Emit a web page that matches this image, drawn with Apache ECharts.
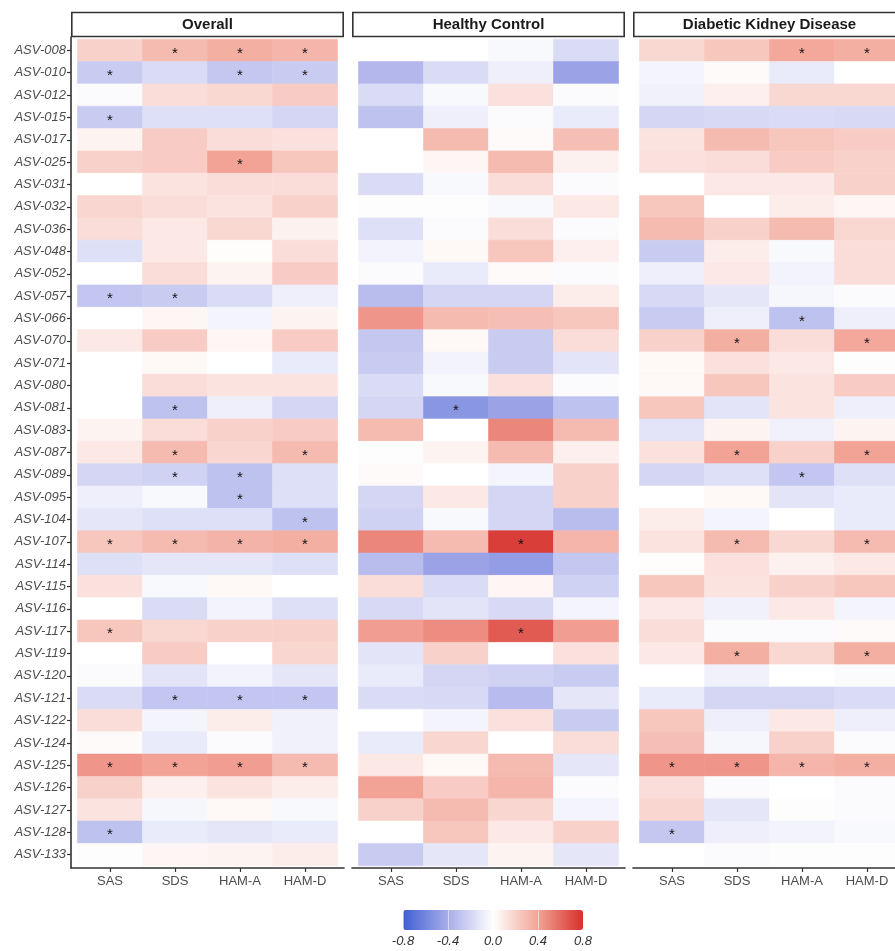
<!DOCTYPE html>
<html>
<head>
<meta charset="utf-8">
<script src="https://cdn.jsdelivr.net/npm/echarts@6/dist/echarts.min.js"></script>
<style>
  html, body { margin: 0; padding: 0; background: #fff; }
  #chart { width: 895px; height: 951px; }
</style>
</head>
<body>
<div id="chart"></div>
<script>
// 行：ASV，列：量表
const rows = ['ASV-008', 'ASV-010', 'ASV-012', 'ASV-015', 'ASV-017', 'ASV-025', 'ASV-031', 'ASV-032', 'ASV-036', 'ASV-048',
  'ASV-052', 'ASV-057', 'ASV-066', 'ASV-070', 'ASV-071', 'ASV-080', 'ASV-081', 'ASV-083', 'ASV-087', 'ASV-089',
  'ASV-095', 'ASV-104', 'ASV-107', 'ASV-114', 'ASV-115', 'ASV-116', 'ASV-117', 'ASV-119', 'ASV-120', 'ASV-121',
  'ASV-122', 'ASV-124', 'ASV-125', 'ASV-126', 'ASV-127', 'ASV-128', 'ASV-133']
const scales = ['SAS', 'SDS', 'HAM-A', 'HAM-D']
const panelNames = ['Overall', 'Healthy Control', 'Diabetic Kidney Disease']
const legendTicks = [-0.8, -0.4, 0.0, 0.4, 0.8]

// Overall
const overallR = [
  [0.2, 0.3, 0.35, 0.32], [-0.25, -0.17, -0.27, -0.25], [-0.02, 0.15, 0.17, 0.22], [-0.25, -0.15, -0.15, -0.2],
  [0.05, 0.22, 0.15, 0.13], [0.2, 0.22, 0.4, 0.25], [0.0, 0.12, 0.15, 0.15], [0.18, 0.15, 0.12, 0.2],
  [0.15, 0.1, 0.17, 0.06], [-0.15, 0.1, 0.01, 0.15], [0.0, 0.15, 0.05, 0.22], [-0.28, -0.25, -0.17, -0.08],
  [0.0, 0.04, -0.05, 0.05], [0.1, 0.22, 0.04, 0.22], [0.0, 0.03, 0.0, -0.1], [0.0, 0.15, 0.12, 0.12],
  [0.0, -0.3, -0.08, -0.2], [0.05, 0.15, 0.2, 0.22], [0.1, 0.3, 0.18, 0.3], [-0.2, -0.22, -0.3, -0.15],
  [-0.08, -0.03, -0.3, -0.15], [-0.12, -0.15, -0.15, -0.3], [0.25, 0.3, 0.33, 0.35], [-0.15, -0.12, -0.12, -0.15],
  [0.13, -0.03, 0.03, 0.0], [0.0, -0.17, -0.06, -0.15], [0.25, 0.17, 0.2, 0.2], [0.0, 0.22, 0.0, 0.18],
  [-0.02, -0.13, -0.06, -0.12], [-0.17, -0.28, -0.28, -0.28], [0.15, -0.05, 0.08, -0.07], [0.02, -0.1, -0.02, -0.07],
  [0.45, 0.4, 0.42, 0.3], [0.2, 0.07, 0.12, 0.08], [0.12, -0.04, 0.03, -0.03], [-0.3, -0.1, -0.12, -0.1],
  [-0.01, 0.04, 0.05, 0.08],
]
const overallSig = ['0111', '1011', '0000', '1000', '0000', '0010', '0000', '0000', '0000', '0000',
  '0000', '1100', '0000', '0000', '0000', '0000', '0100', '0000', '0101', '0110',
  '0010', '0001', '1111', '0000', '0000', '0000', '1000', '0000', '0000', '0111',
  '0000', '0000', '1111', '0000', '0000', '1000', '0000']

// Healthy Control
const controlR = [
  [0.0, 0.0, -0.03, -0.17], [-0.35, -0.17, -0.08, -0.45], [-0.17, -0.03, 0.13, -0.02], [-0.3, -0.08, -0.02, -0.1],
  [0.0, 0.3, 0.02, 0.28], [0.0, 0.04, 0.3, 0.06], [-0.17, -0.03, 0.15, -0.02], [-0.01, -0.01, -0.03, 0.1],
  [-0.15, -0.02, 0.15, -0.02], [-0.06, 0.03, 0.25, 0.07], [-0.02, -0.1, 0.02, -0.02], [-0.32, -0.2, -0.2, 0.08],
  [0.45, 0.3, 0.28, 0.25], [-0.27, 0.03, -0.25, 0.15], [-0.25, -0.06, -0.25, -0.13], [-0.17, -0.03, 0.13, -0.02],
  [-0.2, -0.52, -0.45, -0.3], [0.3, 0.0, 0.5, 0.3], [-0.01, 0.05, 0.3, 0.07], [0.02, 0.0, -0.05, 0.2],
  [-0.2, 0.1, -0.2, 0.2], [-0.22, -0.03, -0.2, -0.32], [0.5, 0.3, 0.75, 0.32], [-0.32, -0.45, -0.48, -0.27],
  [0.15, -0.17, 0.04, -0.22], [-0.18, -0.13, -0.18, -0.05], [0.42, 0.48, 0.65, 0.42], [-0.13, 0.2, 0.0, 0.13],
  [-0.1, -0.2, -0.22, -0.25], [-0.17, -0.18, -0.33, -0.12], [0.0, -0.05, 0.13, -0.25], [-0.1, 0.18, 0.0, 0.15],
  [0.1, 0.03, 0.3, -0.12], [0.4, 0.22, 0.32, -0.02], [0.2, 0.3, 0.18, -0.05], [0.0, 0.25, 0.1, 0.2],
  [-0.25, -0.12, 0.05, -0.12],
]
const controlSig = ['0000', '0000', '0000', '0000', '0000', '0000', '0000', '0000', '0000', '0000',
  '0000', '0000', '0000', '0000', '0000', '0000', '0100', '0000', '0000', '0000',
  '0000', '0000', '0010', '0000', '0000', '0000', '0010', '0000', '0000', '0000',
  '0000', '0000', '0000', '0000', '0000', '0000', '0000']

// Diabetic Kidney Disease
const dkdR = [
  [0.17, 0.25, 0.38, 0.35], [-0.05, 0.02, -0.1, 0.0], [-0.07, 0.07, 0.17, 0.17], [-0.2, -0.18, -0.17, -0.18],
  [0.12, 0.3, 0.25, 0.22], [0.13, 0.15, 0.22, 0.2], [0.0, 0.1, 0.1, 0.2], [0.25, 0.0, 0.08, 0.04],
  [0.3, 0.2, 0.3, 0.17], [-0.25, 0.08, -0.03, 0.15], [-0.08, 0.1, -0.06, 0.15], [-0.18, -0.12, -0.04, -0.02],
  [-0.25, -0.08, -0.3, -0.08], [0.2, 0.35, 0.15, 0.38], [0.03, 0.13, 0.1, -0.01], [0.03, 0.25, 0.12, 0.22],
  [0.25, -0.13, 0.12, -0.08], [-0.13, 0.05, -0.07, 0.05], [0.13, 0.4, 0.2, 0.4], [-0.2, -0.15, -0.28, -0.15],
  [0.0, 0.03, -0.13, -0.1], [0.08, -0.05, 0.0, -0.1], [0.12, 0.3, 0.17, 0.3], [0.01, 0.13, 0.06, 0.1],
  [0.25, 0.12, 0.2, 0.25], [0.1, -0.07, 0.1, -0.05], [0.15, -0.02, -0.02, 0.02], [0.1, 0.35, 0.17, 0.35],
  [0.0, -0.07, 0.0, -0.02], [-0.1, -0.2, -0.2, -0.17], [0.25, -0.08, 0.1, -0.08], [0.28, -0.04, 0.2, -0.02],
  [0.45, 0.45, 0.32, 0.35], [0.15, -0.02, 0.0, -0.02], [0.18, -0.12, -0.01, -0.02], [-0.27, -0.08, -0.06, -0.03],
  [0.0, -0.02, -0.01, -0.01],
]
const dkdSig = ['0011', '0000', '0000', '0000', '0000', '0000', '0000', '0000', '0000', '0000',
  '0000', '0000', '0010', '0101', '0000', '0000', '0000', '0000', '0101', '0010',
  '0000', '0000', '0101', '0000', '0000', '0000', '0000', '0101', '0000', '0000',
  '0000', '0000', '1111', '0000', '0000', '1000', '0000']

const panelR = [overallR, controlR, dkdR]
const panelSig = [overallSig, controlSig, dkdSig]

const FONT = 'Liberation Sans'
const panelLeft = [71, 352, 633]
const panelW = 273
const panelTop = 37
const panelH = 831
const rowIdx = rows.map((_, i) => i + 1)
const colIdx = scales.map((_, i) => i + 1)

// 单元格 + 显著性星号
function renderCell(params, api) {
  const x = api.value(0)
  const y = api.value(1)
  const a = api.coord([x - 0.5, y - 0.5])
  const b = api.coord([x + 0.5, y + 0.5])
  const color = api.visual('color')
  const children = [{
    type: 'rect',
    shape: { x: Math.min(a[0], b[0]), y: Math.min(a[1], b[1]), width: Math.abs(b[0] - a[0]), height: Math.abs(b[1] - a[1]) },
    style: { fill: color, stroke: color, lineWidth: 0.6 },
  }]
  if (api.value(3) === 1) {
    const c = api.coord([x, y])
    children.push({
      type: 'text',
      x: c[0],
      y: c[1] + 3,
      style: { text: '*', fill: '#111', font: `15px "${FONT}"`, align: 'center', verticalAlign: 'middle' },
    })
  }
  return { type: 'group', children }
}

// 第三个分面超出画布右侧，关闭 v6 的 outerBounds 自动收缩
const grid = panelLeft.map(l => ({ left: l, top: panelTop, width: panelW, height: panelH, outerBoundsMode: 'none' }))
grid.push({ left: 403, top: 910, width: 180, height: 20, outerBoundsMode: 'none' })

const xAxis = panelLeft.map((_, i) => ({
  gridIndex: i,
  type: 'value',
  min: 0.4,
  max: 4.6,
  splitLine: { show: false },
  axisLine: { show: true, onZero: false, lineStyle: { color: '#333', width: 1.6 } },
  axisTick: { show: true, customValues: colIdx, length: 4, lineStyle: { color: '#333', width: 1.2 } },
  axisLabel: { customValues: colIdx, formatter: v => scales[v - 1], color: '#4d4d4d', fontSize: 13, fontFamily: FONT, margin: 7 },
}))
// 色标刻度
xAxis.push({
  gridIndex: 3,
  type: 'value',
  min: -0.8,
  max: 0.8,
  interval: 0.4,
  z: 10,
  axisLine: { show: false },
  axisTick: { show: false },
  splitLine: { show: true, lineStyle: { color: 'rgba(255,255,255,0.55)', width: 1 } },
  axisLabel: { formatter: v => v.toFixed(1), fontStyle: 'italic', color: '#333', fontSize: 13, fontFamily: FONT, margin: 5 },
})

const yAxis = panelLeft.map((_, i) => ({
  gridIndex: i,
  type: 'value',
  inverse: true,
  min: 0.4,
  max: rows.length + 0.6,
  show: i === 0,
  splitLine: { show: false },
  axisLine: { show: true, onZero: false, lineStyle: { color: '#333', width: 1.6 } },
  axisTick: { show: true, customValues: rowIdx, length: 4, lineStyle: { color: '#333', width: 1.2 } },
  axisLabel: { customValues: rowIdx, formatter: v => rows[v - 1], color: '#4d4d4d', fontSize: 13, fontStyle: 'italic', fontFamily: FONT, margin: 5 },
}))
yAxis.push({ gridIndex: 3, type: 'value', show: false })

const series = panelR.map((vals, p) => {
  const data = []
  vals.forEach((row, r) => {
    row.forEach((v, c) => {
      data.push([c + 1, r + 1, v, panelSig[p][r][c] === '1' ? 1 : 0])
    })
  })
  return {
    type: 'custom',
    name: panelNames[p],
    xAxisIndex: p,
    yAxisIndex: p,
    encode: { x: 0, y: 1 },
    renderItem: renderCell,
    data,
  }
})

// 分面标题框
const graphic = panelLeft.map((l, i) => ({
  type: 'group',
  children: [
    {
      type: 'rect',
      shape: { x: l + 0.8, y: 12.5, width: panelW - 1.6, height: 24 },
      style: { fill: '#fff', stroke: '#333', lineWidth: 1.6 },
    },
    {
      type: 'text',
      x: l + panelW / 2,
      y: 25,
      style: { text: panelNames[i], font: `bold 15px "${FONT}"`, fill: '#1a1a1a', align: 'center', verticalAlign: 'middle' },
    },
  ],
}))

const chart = echarts.init(document.getElementById('chart'))
chart.setOption({
  backgroundColor: '#fff',
  animation: false,
  textStyle: { fontFamily: FONT },
  grid,
  xAxis,
  yAxis,
  visualMap: {
    type: 'continuous',
    min: legendTicks[0],
    max: legendTicks[legendTicks.length - 1],
    dimension: 2,
    seriesIndex: [0, 1, 2],
    orient: 'horizontal',
    left: 403,
    top: 910,
    itemWidth: 20,
    itemHeight: 180,
    padding: 0,
    calculable: false,
    text: null,
    inRange: { color: ['#3f5fd3', '#a8ade9', '#ffffff', '#f2a396', '#d7302b'] },
  },
  graphic,
  series,
})
</script>
</body>
</html>
